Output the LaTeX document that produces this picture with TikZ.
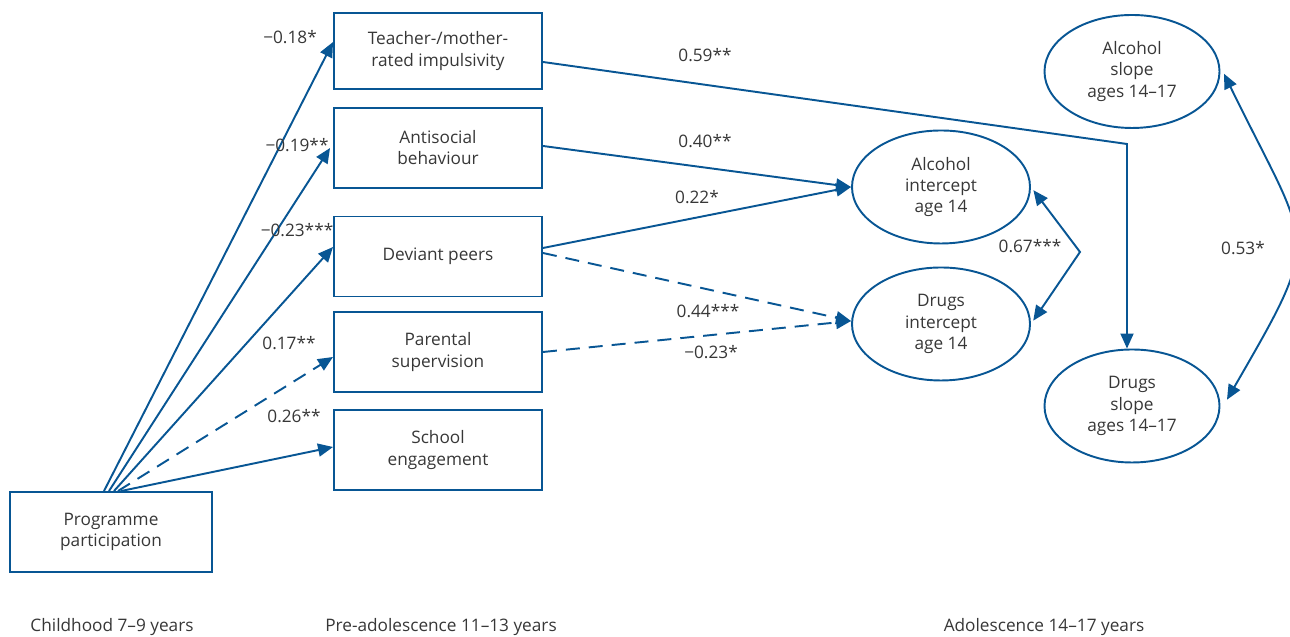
\documentclass[tikz,border=0pt]{standalone}
\usepackage{fontspec}
\setmainfont{Open Sans}
\usepackage{tikz}
\usetikzlibrary{positioning}
\usetikzlibrary{arrows.meta}
\usetikzlibrary{shapes.geometric}
\definecolor{pathblue}{RGB}{8,86,148}
\definecolor{labelgrey}{RGB}{55,55,55}

\begin{document}
\begin{tikzpicture}[
    font=\fontsize{9.8}{12}\selectfont, text=labelgrey,
    measure/.style = {draw=pathblue, line width=1.1pt, rectangle, minimum width=4.16cm, minimum height=1.6cm, align=center},
    latent/.style = {draw=pathblue, line width=1.1pt, ellipse, minimum width=3.56cm, minimum height=2.26cm, inner sep=0pt, align=center},
    effect/.style = {draw=pathblue, line width=1.1pt, -{Triangle[length=0.3cm,width=0.26cm]}},
    nseffect/.style = {effect, dash pattern=on 0.28cm off 0.18cm},
    corr/.style = {draw=pathblue, line width=1.1pt, {Triangle[length=0.3cm,width=0.26cm]}-{Triangle[length=0.3cm,width=0.26cm]}},
    coef/.style = {inner sep=1pt},
    ]

    \useasboundingbox (0,0) rectangle (25.8,12.74);

    %Observed measures
    \node[measure, minimum width=4.04cm] (Programme) at (2.22,2.10) {Programme\\participation};

    \node[measure, minimum height=1.52cm] (Impulsivity) at (8.76,11.72) {Teacher-/mother-\\rated impulsivity};
    \node[measure] (Antisocial) at (8.76,9.78) {Antisocial\\behaviour};
    \node[measure] (Peers) at (8.76,7.61) {Deviant peers};
    \node[measure] (Supervision) at (8.76,5.70) {Parental\\supervision};
    \node[measure] (School) at (8.76,3.74) {School\\engagement};

    %Growth factors
    \node[latent] (AlcIntercept) at (18.82,9.00) {Alcohol\\intercept\\age 14};
    \node[latent] (DrugIntercept) at (18.82,6.26) {Drugs\\intercept\\age 14};
    \node[latent, minimum width=3.5cm] (AlcSlope) at (22.64,11.31) {Alcohol\\slope\\ages 14–17};
    \node[latent, minimum width=3.5cm] (DrugSlope) at (22.64,4.62) {Drugs\\slope\\ages 14–17};

    %FOR THE BENDS
    \coordinate (SlopeBend) at (22.54,9.86);
    \coordinate (CorrBend) at (21.60,7.70);

    %Paths
    \draw[effect] ([xshift=-0.14cm]Programme.north) -- ([yshift=0.18cm]Impulsivity.west);
    \draw[effect] ([xshift=-0.04cm]Programme.north) -- ([xshift=-0.06cm]Antisocial.west);
    \draw[effect] ([xshift=0.06cm]Programme.north) -- ([yshift=0.19cm]Peers.west);
    \draw[nseffect] ([xshift=0.14cm]Programme.north) -- ([yshift=-0.10cm]Supervision.west);
    \draw[effect] ([xshift=0.20cm]Programme.north) -- ([yshift=0.06cm]School.west);

    \draw[effect] ([yshift=-0.22cm]Impulsivity.east) -- (SlopeBend) -- (SlopeBend |- DrugSlope.north);
    \draw[effect] ([yshift=0.04cm]Antisocial.east) -- (AlcIntercept.west);
    \draw[effect] ([yshift=0.17cm]Peers.east) -- (AlcIntercept.west);
    \draw[nseffect] ([yshift=0.07cm]Peers.east) -- ([yshift=0.06cm]DrugIntercept.west);
    \draw[nseffect] (Supervision.east) -- ([yshift=0.06cm]DrugIntercept.west);

    \draw[corr, shorten <=0.08cm, shorten >=0.08cm] (AlcIntercept.east) -- (CorrBend) -- (DrugIntercept.east);
    \draw[corr, shorten <=0.16cm, shorten >=0.26cm] ([yshift=0.1cm]AlcSlope.east) to[out=-64, in=60, looseness=1.55] ([yshift=-0.1cm]DrugSlope.east);

    %-------------------------------------------
    %Labels

    \node[coef] (ImpulsivityCoef) at (5.80,12.00) {−0.18*};
    \node[coef] (AntisocialCoef) at (5.94,9.84) {−0.19**};
    \node[coef] (PeersCoef) at (5.94,8.14) {−0.23***};
    \node[coef] (SupervisionCoef) at (5.78,5.88) {0.17**};
    \node[coef] (SchoolCoef) at (5.88,4.42) {0.26**};

    \node[coef] (SlopeCoef) at (14.10,11.64) {0.59**};
    \node[coef] (AntiAlcCoef) at (14.10,9.92) {0.40**};
    \node[coef] (PeersAlcCoef) at (13.94,8.80) {0.22*};
    \node[coef] (PeersDrugCoef) at (14.16,6.52) {0.44***};
    \node[coef] (SupDrugCoef) at (14.22,5.70) {−0.23*};

    \node[coef] (InterceptCorr) at (20.60,7.82) {0.67***};
    \node[coef] (SlopeCorr) at (24.86,7.78) {0.53*};

    \node (Childhood) at (2.24,0.20) {Childhood 7–9 years};
    \node (PreAdolescence) at (8.82,0.20) {Pre-adolescence 11–13 years};
    \node (Adolescence) at (20.88,0.20) {Adolescence 14–17 years};

\end{tikzpicture}
\end{document}
